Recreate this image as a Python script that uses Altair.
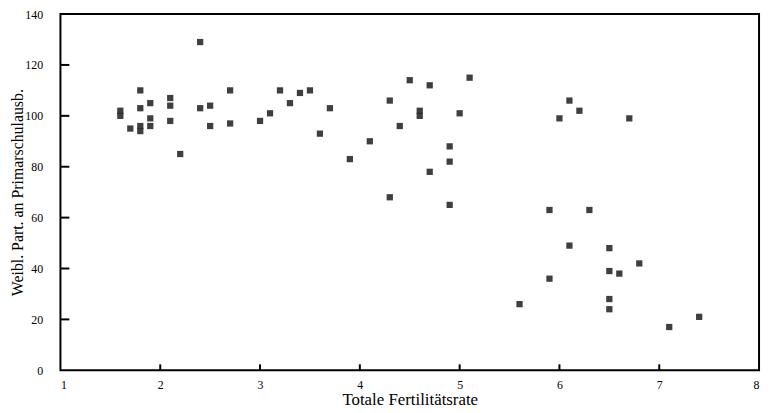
import altair as alt
import pandas as pd

# Data
fertility = [1.6, 1.6, 1.7, 1.8, 1.8, 1.8, 1.8, 1.9, 1.9, 1.9,
             2.1, 2.1, 2.1, 2.2, 2.4, 2.4, 2.5, 2.5, 2.7, 2.7,
             3.0, 3.1, 3.2, 3.3, 3.4, 3.5, 3.6, 3.7, 3.9, 4.1,
             4.3, 4.3, 4.4, 4.5, 4.6, 4.6, 4.7, 4.7, 4.9, 4.9,
             4.9, 5.0, 5.1, 5.6, 5.9, 5.9, 6.0, 6.1, 6.1, 6.2,
             6.3, 6.5, 6.5, 6.5, 6.5, 6.6, 6.7, 6.8, 7.1, 7.4]
school = [102, 100, 95, 110, 103, 96, 94, 105, 99, 96,
          107, 104, 98, 85, 129, 103, 104, 96, 110, 97,
          98, 101, 110, 105, 109, 110, 93, 103, 83, 90,
          106, 68, 96, 114, 102, 100, 112, 78, 88, 82,
          65, 101, 115, 26, 63, 36, 99, 106, 49, 102,
          63, 48, 39, 28, 24, 38, 99, 42, 17, 21]

x_ticks = [1, 2, 3, 4, 5, 6, 7, 8]
y_ticks = [0, 20, 40, 60, 80, 100, 120, 140]
x_inner_ticks = [2, 3, 4, 5, 6, 7]
y_inner_ticks = [20, 40, 60, 80, 100, 120]

x_title = "Totale Fertilitätsrate"
y_title = "Weibl. Part. an Primarschulausb."

df = pd.DataFrame({"f": fertility, "s": school})
yt = pd.DataFrame({"v": y_inner_ticks})
xt = pd.DataFrame({"v": x_inner_ticks})

FONT = "Liberation Serif"

xscale = alt.Scale(domain=[1, 8], nice=False, zero=False)
yscale = alt.Scale(domain=[0, 140], nice=False)

points = alt.Chart(df).mark_square(size=40, color="#2a2a2a", opacity=0.9).encode(
    x=alt.X("f:Q", scale=xscale, title=x_title,
            axis=alt.Axis(values=x_ticks, format="d", grid=False, ticks=False, tickSize=0,
                          domain=False, labelPadding=9, labelFontSize=12, labelFont=FONT,
                          labelColor="black", titleFont=FONT, titleFontSize=17,
                          titleFontWeight="normal", titleColor="black",
                          titleBaseline="alphabetic", titleY=35)),
    y=alt.Y("s:Q", scale=yscale, title=y_title,
            axis=alt.Axis(values=y_ticks, grid=False, ticks=False, tickSize=0,
                          domain=False, labelPadding=18, labelFontSize=12, labelFont=FONT,
                          labelColor="black", titleFont=FONT, titleFontSize=16,
                          titleFontWeight="normal", titleColor="black",
                          titleBaseline="bottom", titleX=-35)),
)

# inward tick marks drawn as short rules
yticks = alt.Chart(yt).mark_rule(color="black", strokeWidth=2).encode(
    y=alt.Y("v:Q", scale=yscale),
    x=alt.value(0), x2=alt.value(9),
)
xticks = alt.Chart(xt).mark_rule(color="black", strokeWidth=2).encode(
    x=alt.X("v:Q", scale=xscale),
    y=alt.value(360), y2=alt.value(354),
)

chart = alt.layer(points, yticks, xticks).properties(
    width=706, height=360,
    background="white",
    autosize=alt.AutoSizeParams(type="none"),
    padding={"left": 53, "top": 4, "right": 4, "bottom": 37},
).configure_view(stroke="black", strokeWidth=2)

chart.save("out.html", embed_options={"renderer": "svg", "actions": False})
